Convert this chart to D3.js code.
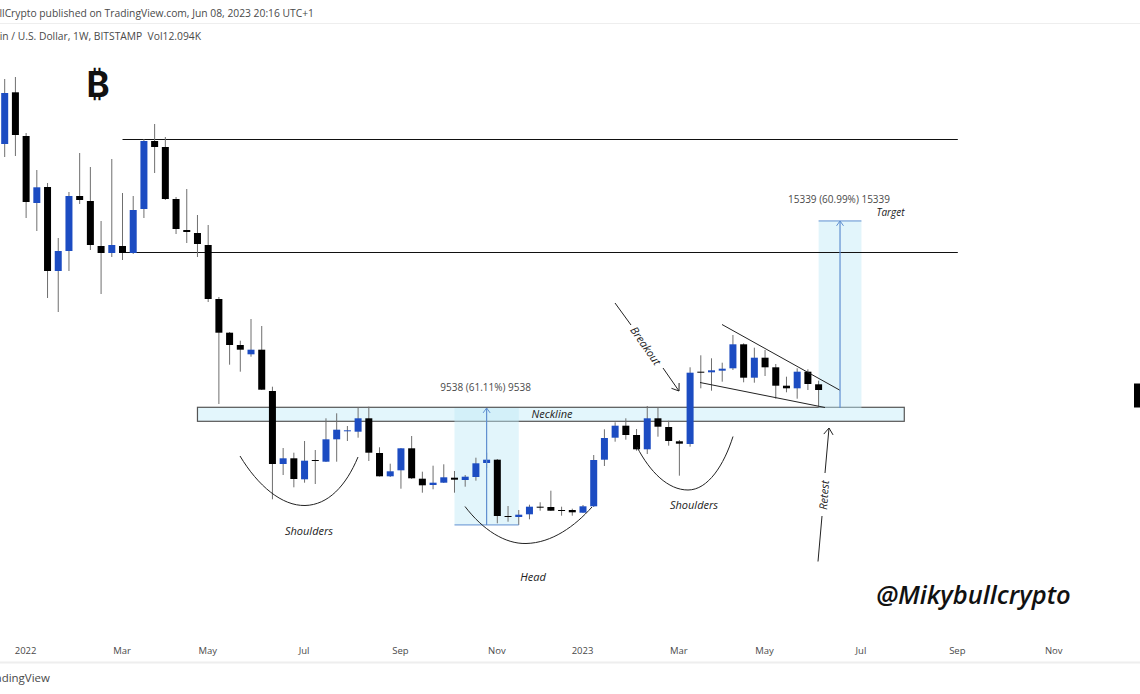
<!DOCTYPE html>
<html><head><meta charset="utf-8">
<script src="https://cdn.jsdelivr.net/npm/d3@7/dist/d3.min.js"></script>
<style>html,body{margin:0;background:#fff;overflow:hidden}svg{display:block}text{font-family:"Open Sans",sans-serif}</style>
</head><body><svg id="c" width="1140" height="694"></svg>
<script>
const weeks=["2021-12-20","2021-12-27","2022-01-03","2022-01-10","2022-01-17","2022-01-24","2022-01-31","2022-02-07","2022-02-14","2022-02-21","2022-02-28","2022-03-07","2022-03-14","2022-03-21","2022-03-28","2022-04-04","2022-04-11","2022-04-18","2022-04-25","2022-05-02","2022-05-09","2022-05-16","2022-05-23","2022-05-30","2022-06-06","2022-06-13","2022-06-20","2022-06-27","2022-07-04","2022-07-11","2022-07-18","2022-07-25","2022-08-01","2022-08-08","2022-08-15","2022-08-22","2022-08-29","2022-09-05","2022-09-12","2022-09-19","2022-09-26","2022-10-03","2022-10-10","2022-10-17","2022-10-24","2022-10-31","2022-11-07","2022-11-14","2022-11-21","2022-11-28","2022-12-05","2022-12-12","2022-12-19","2022-12-26","2023-01-02","2023-01-09","2023-01-16","2023-01-23","2023-01-30","2023-02-06","2023-02-13","2023-02-20","2023-02-27","2023-03-06","2023-03-13","2023-03-20","2023-03-27","2023-04-03","2023-04-10","2023-04-17","2023-04-24","2023-05-01","2023-05-08","2023-05-15","2023-05-22","2023-05-29","2023-06-05"];
const openP=[46786,51025,47442,41948,43260,36372,38012,42522,42112,38422,37848,38422,37848,41456,47032,46540,42276,39734,39488,38504,34076,31313,30304,29541,29919,26532,20546,21013,19291,20874,20735,22571,23227,23195,24293,21448,19537,20029,21833,19341,18824,19013,19423,19234,19480,20628,20899,16282,16200,16421,17045,17020,16774,16774,16553,17077,20899,22703,23687,22924,21751,24293,23580,22407,22186,28115,28065,28197,28393,30361,27623,29263,28475,26967,26753,28115,27081];
const closeP=[50968,47524,42030,43235,36372,38012,42522,42194,38504,37848,38504,37848,41374,47032,46540,42276,39816,39570,38586,34076,31313,30304,29919,29919,26639,20546,21013,19316,20817,20792,22571,23359,23309,24293,21473,19537,19947,21833,19374,18799,19013,19455,19259,19505,20603,20899,16282,16200,16389,17045,16979,16717,16708,16585,17077,20874,22678,23687,22924,21751,24293,23605,22432,22211,28033,28074,28229,28361,30361,27623,29263,28475,26967,26753,28115,27106,26614];
const highP=[52116,52280,47688,44654,43588,39078,42850,46048,44900,40472,45556,42768,42522,47196,48426,47360,42440,43096,40964,40144,34240,31370,30657,32436,31862,26885,21858,21473,22432,21694,24293,24703,23662,25195,25245,21915,20571,21858,22842,19915,20407,20521,19972,19644,21063,21473,20956,17102,16774,17209,17405,18357,17045,16881,17184,21284,23391,23965,24293,23416,25302,25195,24097,22514,28475,29459,29213,28853,31124,30443,30083,29894,28746,27705,28393,28311,27377];
const lowP=[45720,45802,40718,39652,34158,33010,36372,41866,38094,34486,37520,37274,37766,40718,44408,42194,39406,38668,37520,33830,25466,28689,28115,29345,26614,17651,19644,18635,19013,18906,20710,20735,22432,22703,20792,19521,19480,18521,19316,18193,18471,18988,18193,18685,19177,20218,15683,15815,15544,16011,16717,16692,16307,16307,16528,17020,20382,22375,22539,21637,21366,22785,22047,19587,21965,26753,26557,27295,28254,27245,27213,27762,25901,26425,25901,26614,25245];
const tickDates=["2022-01-03","2022-03-07","2022-05-02","2022-07-04","2022-09-05","2022-11-07","2023-01-02","2023-03-06","2023-05-01","2023-07-03","2023-09-04","2023-11-06"];
const tickLabels=["2022","Mar","May","Jul","Sep","Nov","2023","Mar","May","Jul","Sep","Nov"];
const levels=[47155,37889];
const neckline=[24047,25195];
const measures=[{from:15550,to:25138,start:"2022-10-10",mid:"2022-10-31",end:"2022-11-21",label:"9538 (61.11%) 9538"},
                {from:25138,to:40477,start:"2023-06-05",mid:"2023-06-19",end:"2023-07-03",label:"15339 (60.99%) 15339"}];

const d=s=>new Date(s+"T00:00:00Z");
const svg=d3.select("#c");
const x=d3.scaleUtc().domain([d(weeks[0]),d("2023-01-02")]).range([4.7,583]);
const y=d3.scaleLinear().domain([1686,58594]).range([694,0]);
const ink="#222", muted="#4a4a4a";

// chrome
svg.append("rect").attr("width",1140).attr("height",694).attr("fill","#fff");
svg.append("line").attr("x1",0).attr("x2",1140).attr("y1",23.5).attr("y2",23.5).attr("stroke","#eeeeee");
svg.append("line").attr("x1",0).attr("x2",1140).attr("y1",662.5).attr("y2",662.5).attr("stroke","#eeeeee").attr("stroke-width",2);
svg.append("text").attr("x",314).attr("y",17).attr("text-anchor","end").attr("font-size",10.3).attr("fill",muted).text("MikybullCrypto published on TradingView.com, Jun 08, 2023 20:16 UTC+1");
svg.append("text").attr("x",201).attr("y",40).attr("text-anchor","end").attr("font-size",10.3).attr("fill",muted).attr("xml:space","preserve").text("Bitcoin / U.S. Dollar, 1W, BITSTAMP  Vol12.094K");
svg.append("text").attr("x",50).attr("y",682).attr("text-anchor","end").attr("font-size",11.5).attr("fill",muted).text("TradingView");
svg.append("rect").attr("x",1134).attr("y",383.5).attr("width",6).attr("height",24).attr("fill","#000");

// measure fills and neckline
const necklineG=svg.append("g");
necklineG.append("rect").attr("x",x(d("2022-04-25"))).attr("width",x(d("2023-07-31"))-x(d("2022-04-25")))
  .attr("y",y(neckline[1])).attr("height",y(neckline[0])-y(neckline[1]))
  .attr("fill","#e3f6fc").attr("stroke","#555").attr("stroke-width",1.2);
measures.forEach(m=>{
  svg.append("rect").attr("x",x(d(m.start))).attr("width",x(d(m.end))-x(d(m.start)))
    .attr("y",y(m.to)).attr("height",y(m.from)-y(m.to)).attr("fill","#bfe8f7").attr("fill-opacity",.45);
});

// levels
levels.forEach(l=>svg.append("line").attr("x1",x(d("2022-03-07"))).attr("x2",x(d("2023-09-04")))
  .attr("y1",y(l)).attr("y2",y(l)).attr("stroke","#111").attr("stroke-width",1));

// candles
const cw=7;
const g=svg.append("g").selectAll("g").data(weeks).join("g");
g.append("line").attr("x1",(w)=>x(d(w))).attr("x2",(w)=>x(d(w)))
  .attr("y1",(w,i)=>y(highP[i])).attr("y2",(w,i)=>y(lowP[i])).attr("stroke","#6f6f6f").attr("stroke-width",1);
g.append("rect").attr("x",w=>x(d(w))-cw/2).attr("width",cw)
  .attr("y",(w,i)=>y(Math.max(openP[i],closeP[i])))
  .attr("height",(w,i)=>Math.max(1,Math.abs(y(openP[i])-y(closeP[i]))))
  .attr("fill",(w,i)=>closeP[i]>=openP[i]?"#1c4cc2":"#000");

// measure lines
const mBlue="#5f8fd0";
const arrowHead=(px,py,dx,dy,s,col,sw)=>{
  const a=Math.atan2(dy,dx),t=0.62;
  svg.append("path").attr("d",`M${px-s*Math.cos(a-t)},${py-s*Math.sin(a-t)}L${px},${py}L${px-s*Math.cos(a+t)},${py-s*Math.sin(a+t)}`)
    .attr("fill","none").attr("stroke",col).attr("stroke-width",sw||1);
};
measures.forEach((m,i)=>{
  const mx=x(d(m.mid));
  svg.append("line").attr("x1",mx).attr("x2",mx).attr("y1",y(m.from)).attr("y2",y(m.to)).attr("stroke",mBlue).attr("stroke-width",1.2);
  arrowHead(mx,y(m.to),0,-1,6,mBlue,1);
  const yEdge=i==0?y(m.from):y(m.to);
  svg.append("line").attr("x1",x(d(m.start))).attr("x2",x(d(m.end))).attr("y1",yEdge).attr("y2",yEdge).attr("stroke",mBlue).attr("stroke-width",1);
  svg.append("text").attr("x",mx-1).attr("y",y(m.to)-17.5).attr("text-anchor","middle").attr("font-size",10).attr("fill",muted).text(m.label);
});

// hand-drawn annotations
const stroke=(p,w)=>svg.append("path").attr("d",p).attr("fill","none").attr("stroke",ink).attr("stroke-width",w||1);
stroke("M240,456C258,486 282,506 305,505.5C328,505 346,486 358,457");
stroke("M465,506.5C483,530 505,544 526,543.5C552,543 575,526 592,507");
stroke("M637,447C650,472 668,490 688,490C708,490 724,465 733,436.5");
stroke("M615,303L631,325");
stroke("M663,368L679,391"); arrowHead(679,391,16,23,8,ink);
stroke("M722,324.5L839.5,390");
stroke("M700,382.5L825,407.5");
stroke("M818,561.5L822,516");
stroke("M825,473L829,428"); arrowHead(829,428,4,-45,8,ink);

const label=(t,px,py,size,rot)=>{
  svg.append("text").attr("transform",`translate(${px},${py})`+(rot?` rotate(${rot})`:""))
    .attr("text-anchor","middle").attr("dominant-baseline","central").attr("font-style","italic")
    .attr("font-size",size).attr("fill","#222").text(t);
};
label("Shoulders",309,530,11);
label("Head",533,576,11);
label("Shoulders",694,504,11);
label("Neckline",552,413,11);
label("Target",890.5,212,10);
label("Breakout",646,345.5,11,55);
label("Retest",823.5,495,11,-86);
svg.append("text").attr("x",973.5).attr("y",594).attr("text-anchor","middle").attr("dominant-baseline","central")
  .attr("font-style","italic").attr("font-weight",600).attr("font-size",25.5).attr("fill","#111").text("@Mikybullcrypto");
svg.append("text").attr("x",98).attr("y",84).attr("text-anchor","middle").attr("dominant-baseline","central")
  .style("font-family","Inter,'Noto Sans',sans-serif").attr("font-weight",700).attr("font-size",35).attr("fill","#111").text("₿");

// time axis
const axis=d3.axisBottom(x).tickValues(tickDates.map(d)).tickFormat((v,i)=>tickLabels[i]).tickSize(0);
const ax=svg.append("g").attr("transform","translate(-1,644)").call(axis);
ax.select(".domain").remove();
ax.selectAll("text").attr("font-size",9.5).attr("fill",muted).style("font-family","'Open Sans'");
</script></body></html>
